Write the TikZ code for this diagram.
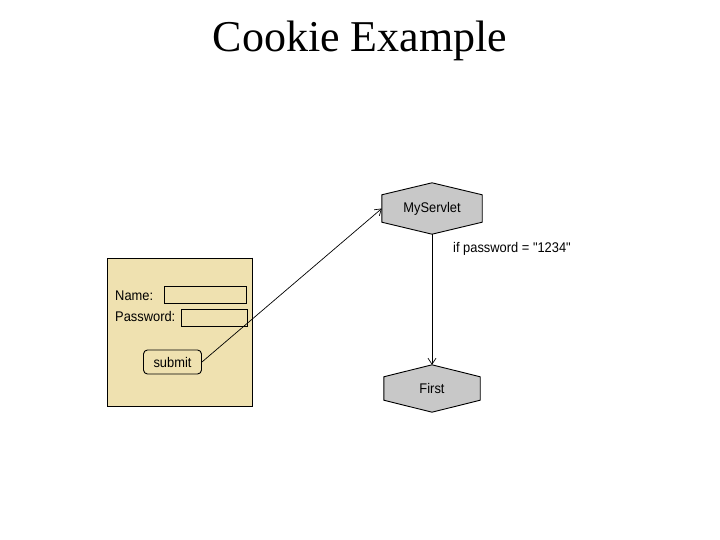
\documentclass[tikz,border=0pt]{standalone}
\usepackage{fontspec}
\setmainfont{Liberation Serif}
\newfontfamily\formfont[FakeStretch=0.92]{Liberation Sans}
\usetikzlibrary{backgrounds,arrows.meta}
\definecolor{formtan}{RGB}{239,225,176}
\definecolor{hexgray}{RGB}{200,200,200}
\tikzset{
  lbl/.style={font=\formfont\fontsize{14}{16}\selectfont, inner sep=0pt},
  field/.style={draw, fill=formtan, line width=0.8pt, inner sep=0pt},
  hexbox/.style={lbl, inner sep=0pt, minimum width=#1},
  link/.style={line width=0.7pt, -{Straight Barb[length=6pt,width=8pt]}},
}
% hexagon round a node, corners 12pt in from top and bottom
\newcommand{\hexround}[1]{%
  \filldraw[fill=hexgray, line width=0.9pt]
    ([yshift=-12pt]#1.north west) -- (#1.north) -- ([yshift=-12pt]#1.north east)
    -- ([yshift=12pt]#1.south east) -- (#1.south) -- ([yshift=12pt]#1.south west) -- cycle;}
\begin{document}
\begin{tikzpicture}[x=1pt,y=-1pt]
\useasboundingbox (0,0) rectangle (720,540);
\node[anchor=base, font=\fontsize{44}{50}\selectfont, inner sep=0pt] (title) at (360,52) {Cookie Example};

% the form
\node[draw, fill=formtan, line width=0.8pt, minimum width=145pt, minimum height=148pt, inner sep=0pt] (form) at (179.5,332) {};
\draw[line width=1.6pt] (form.north east) -- (form.south east) -- (form.south west);
\node[lbl, anchor=base west] (namelbl) at (115,300) {Name:};
\node[lbl, anchor=base west] (passlbl) at (115,321) {Password:};
\node[field, minimum width=82pt, minimum height=17pt] (namefield) at (205,294.5) {};
\node[field, minimum width=66pt, minimum height=17pt] (passfield) at (214,318) {};
\node[lbl, draw, fill=formtan, rounded corners=4pt, line width=0.9pt, minimum width=58pt, minimum height=24pt] (submit) at (172.5,362) {submit};

% servlet and target page
\node[hexbox=100pt, minimum height=51pt] (servlet) at (432,208.5) {MyServlet};
\node[hexbox=96pt, minimum height=47pt] (first) at (432,388.5) {First};
\begin{scope}[on background layer]
\hexround{servlet}
\hexround{first}
\end{scope}
\node[lbl, anchor=base west] (cond) at (453,252) {if password = "1234"};

\draw[link] (submit.east) -- (servlet.west);
\draw[link] (servlet.south) -- (first.north);
\end{tikzpicture}
\end{document}
